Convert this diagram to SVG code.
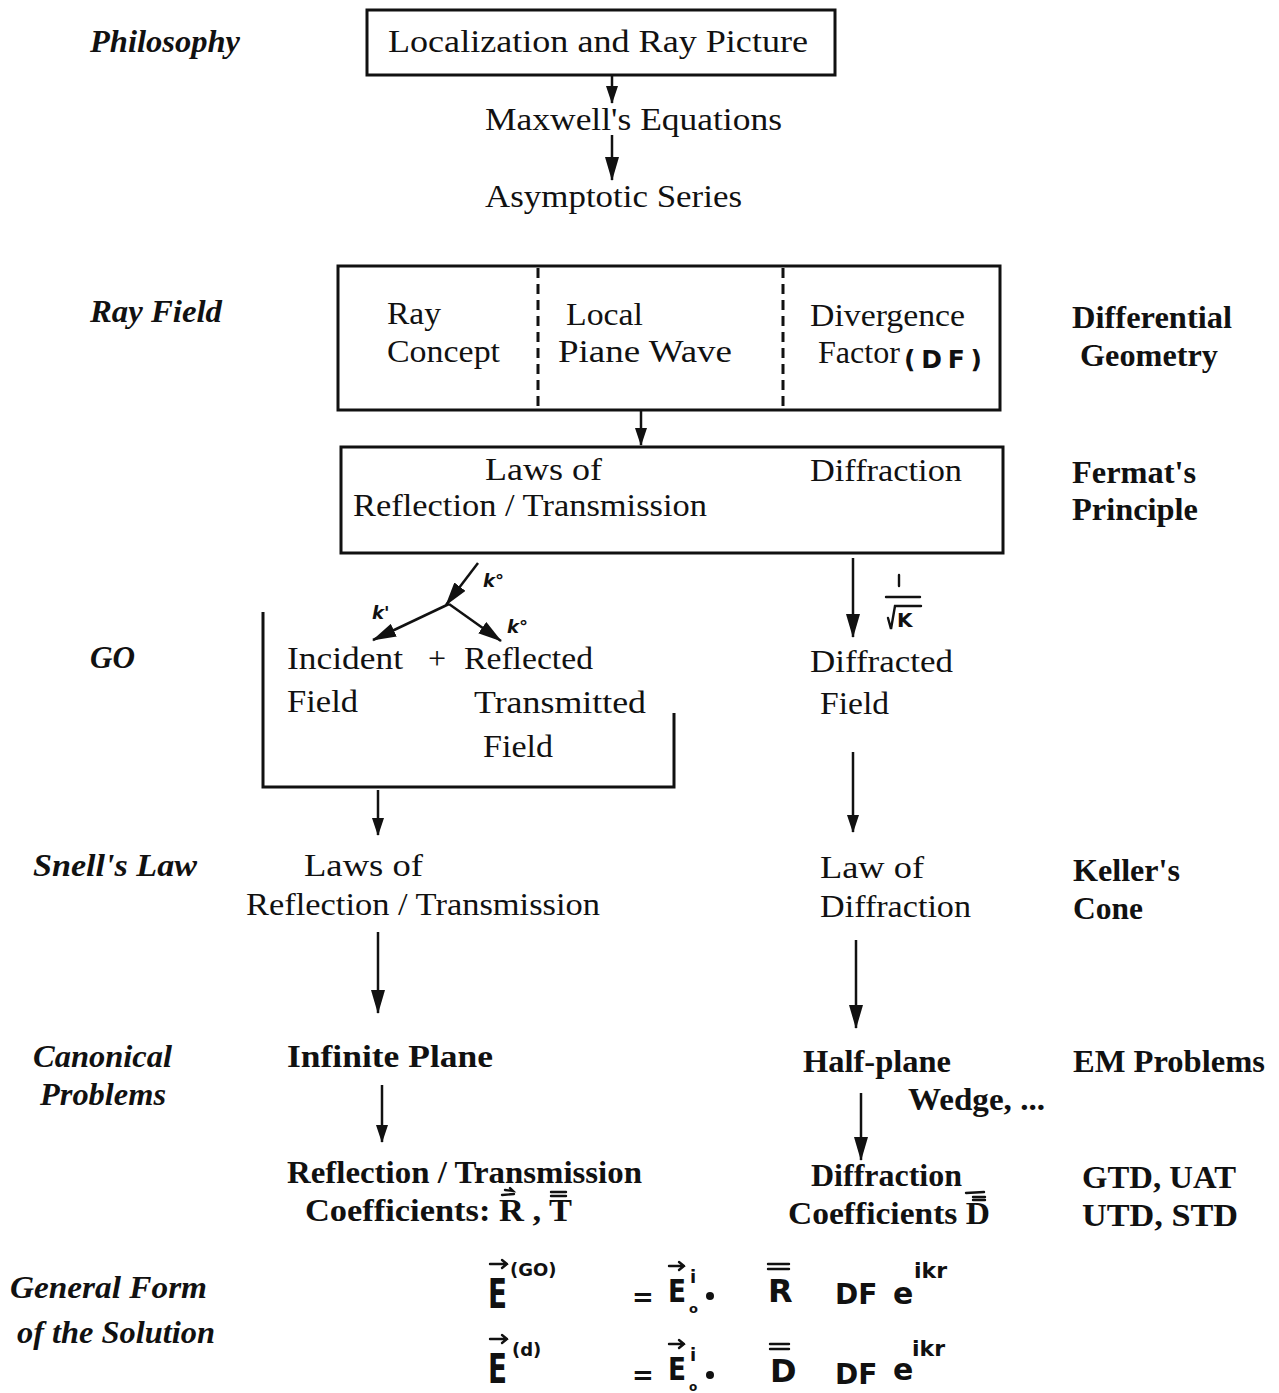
<svg xmlns="http://www.w3.org/2000/svg" width="1279" height="1393" viewBox="0 0 1279 1393">
<style>
.t{font-family:"Liberation Serif","Times New Roman",serif;font-size:32px;fill:#111}
.b{font-family:"Liberation Serif","Times New Roman",serif;font-size:31px;font-weight:bold;fill:#111}
.l{font-family:"Liberation Serif","Times New Roman",serif;font-size:31px;font-weight:bold;font-style:italic;fill:#111}
.h{font-family:"DejaVu Sans",sans-serif;font-weight:bold;fill:#111}
.box{fill:none;stroke:#111;stroke-width:3}
.dash{fill:none;stroke:#111;stroke-width:3;stroke-dasharray:10,6}
.c{fill:none;stroke:#111;stroke-width:2.5}
.hw{fill:none;stroke:#111;stroke-width:2.4;stroke-linecap:round}
</style>
<defs>
<marker id="ah" markerUnits="userSpaceOnUse" markerWidth="18" markerHeight="12" refX="17" refY="6" orient="auto">
<path d="M0,0 L18,6 L0,12 z" fill="#111"/>
</marker>
<marker id="ahb" markerUnits="userSpaceOnUse" markerWidth="24" markerHeight="14" refX="23" refY="7" orient="auto">
<path d="M0,0 L24,7 L0,14 z" fill="#111"/>
</marker>
</defs>

<g id="labels-left">
<text class="l" x="90" y="52" textLength="150" lengthAdjust="spacingAndGlyphs">Philosophy</text>
<text class="l" x="90" y="322" textLength="132" lengthAdjust="spacingAndGlyphs">Ray Field</text>
<text class="l" x="90" y="668" textLength="45" lengthAdjust="spacingAndGlyphs">GO</text>
<text class="l" x="33" y="876" textLength="164" lengthAdjust="spacingAndGlyphs">Snell's Law</text>
<text class="l" x="33" y="1067" textLength="139" lengthAdjust="spacingAndGlyphs">Canonical</text>
<text class="l" x="40" y="1105" textLength="126" lengthAdjust="spacingAndGlyphs">Problems</text>
<text class="l" x="10" y="1298" textLength="197" lengthAdjust="spacingAndGlyphs">General Form</text>
<text class="l" x="17" y="1343" textLength="198" lengthAdjust="spacingAndGlyphs">of the Solution</text>
</g>

<g id="labels-right">
<text class="b" x="1072" y="328" textLength="160" lengthAdjust="spacingAndGlyphs">Differential</text>
<text class="b" x="1080" y="366" textLength="138" lengthAdjust="spacingAndGlyphs">Geometry</text>
<text class="b" x="1072" y="483" textLength="124" lengthAdjust="spacingAndGlyphs">Fermat's</text>
<text class="b" x="1072" y="520" textLength="126" lengthAdjust="spacingAndGlyphs">Principle</text>
<text class="b" x="1073" y="881" textLength="107" lengthAdjust="spacingAndGlyphs">Keller's</text>
<text class="b" x="1073" y="919" textLength="70" lengthAdjust="spacingAndGlyphs">Cone</text>
<text class="b" x="1073" y="1072" textLength="192" lengthAdjust="spacingAndGlyphs">EM Problems</text>
<text class="b" x="1082" y="1188" textLength="154" lengthAdjust="spacingAndGlyphs">GTD, UAT</text>
<text class="b" x="1082" y="1226" textLength="156" lengthAdjust="spacingAndGlyphs">UTD, STD</text>
</g>

<g id="node-localization">
<rect class="box" x="367" y="10" width="468" height="65"/>
<text class="t" x="388" y="52" textLength="420" lengthAdjust="spacingAndGlyphs">Localization and Ray Picture</text>
</g>
<g id="node-maxwell">
<text class="t" x="485" y="130" textLength="297" lengthAdjust="spacingAndGlyphs">Maxwell's Equations</text>
</g>
<g id="node-asymptotic">
<text class="t" x="485" y="207" textLength="257" lengthAdjust="spacingAndGlyphs">Asymptotic Series</text>
</g>

<g id="node-rayfield">
<rect class="box" x="338" y="266" width="662" height="144"/>
<line class="dash" x1="538" y1="268" x2="538" y2="408"/>
<line class="dash" x1="783" y1="268" x2="783" y2="408"/>
<text class="t" x="387" y="324" textLength="54" lengthAdjust="spacingAndGlyphs">Ray</text>
<text class="t" x="387" y="362" textLength="113" lengthAdjust="spacingAndGlyphs">Concept</text>
<text class="t" x="566" y="325" textLength="77" lengthAdjust="spacingAndGlyphs">Local</text>
<text class="t" x="558" y="362" textLength="174" lengthAdjust="spacingAndGlyphs">Piane Wave</text>
<text class="t" x="810" y="326" textLength="155" lengthAdjust="spacingAndGlyphs">Divergence</text>
<text class="t" x="818" y="363" textLength="82" lengthAdjust="spacingAndGlyphs">Factor</text>
<text class="h" x="904" y="368" font-size="25" textLength="78" lengthAdjust="spacing">(DF)</text>
</g>

<g id="node-laws">
<rect class="box" x="341" y="447" width="662" height="106"/>
<text class="t" x="485" y="480" textLength="117" lengthAdjust="spacingAndGlyphs">Laws of</text>
<text class="t" x="810" y="481" textLength="152" lengthAdjust="spacingAndGlyphs">Diffraction</text>
<text class="t" x="353" y="516" textLength="354" lengthAdjust="spacingAndGlyphs">Reflection / Transmission</text>
</g>

<g id="node-go">
<path class="box" d="M263,612 L263,787 L674,787 L674,713"/>
<text class="t" x="287" y="669" textLength="116" lengthAdjust="spacingAndGlyphs">Incident</text>
<text class="t" x="428" y="669">+</text>
<text class="t" x="464" y="669" textLength="129" lengthAdjust="spacingAndGlyphs">Reflected</text>
<text class="t" x="287" y="712" textLength="71" lengthAdjust="spacingAndGlyphs">Field</text>
<text class="t" x="474" y="713" textLength="172" lengthAdjust="spacingAndGlyphs">Transmitted</text>
<text class="t" x="483" y="757" textLength="70" lengthAdjust="spacingAndGlyphs">Field</text>
</g>

<g id="node-diffracted">
<text class="t" x="810" y="672" textLength="143" lengthAdjust="spacingAndGlyphs">Diffracted</text>
<text class="t" x="820" y="714" textLength="69" lengthAdjust="spacingAndGlyphs">Field</text>
</g>

<g id="node-snell-left">
<text class="t" x="304" y="876" textLength="119" lengthAdjust="spacingAndGlyphs">Laws of</text>
<text class="t" x="246" y="915" textLength="354" lengthAdjust="spacingAndGlyphs">Reflection / Transmission</text>
</g>
<g id="node-snell-right">
<text class="t" x="820" y="878" textLength="104" lengthAdjust="spacingAndGlyphs">Law of</text>
<text class="t" x="820" y="917" textLength="151" lengthAdjust="spacingAndGlyphs">Diffraction</text>
</g>

<g id="node-infinite-plane">
<text class="b" x="287" y="1067" textLength="206" lengthAdjust="spacingAndGlyphs">Infinite Plane</text>
</g>
<g id="node-half-plane">
<text class="b" x="803" y="1072" textLength="148" lengthAdjust="spacingAndGlyphs">Half-plane</text>
<text class="b" x="908" y="1110" textLength="137" lengthAdjust="spacingAndGlyphs">Wedge, ...</text>
</g>

<g id="node-rt-coeff">
<text class="b" x="287" y="1183" textLength="355" lengthAdjust="spacingAndGlyphs">Reflection / Transmission</text>
<text class="b" x="305" y="1221" textLength="267" lengthAdjust="spacingAndGlyphs">Coefficients: R , T</text>
<path class="hw" d="M502,1195 L514,1194 M505,1190 L513,1191 L510,1188" stroke-width="1.8"/>
<path class="hw" d="M551,1192 L566,1192 M551,1196 L566,1196" stroke-width="2"/>
</g>
<g id="node-d-coeff">
<text class="b" x="811" y="1186" textLength="151" lengthAdjust="spacingAndGlyphs">Diffraction</text>
<text class="b" x="788" y="1224" textLength="202" lengthAdjust="spacingAndGlyphs">Coefficients D</text>
<path class="hw" d="M966,1193 L984,1192" stroke-width="2"/>
<path class="hw" d="M973,1197 L985,1197 M973,1200 L985,1200" stroke-width="1.8"/>
</g>

<g id="node-formulas">
<text class="h" x="488" y="1308" font-size="40" textLength="19" lengthAdjust="spacingAndGlyphs">E</text>
<path class="hw" d="M490,1264 L507,1264 M502,1260 L507,1264 L502,1268"/>
<text class="h" x="510" y="1276" font-size="18">(GO)</text>
<text class="h" x="632" y="1306" font-size="26">=</text>
<text class="h" x="668" y="1302" font-size="32" textLength="18" lengthAdjust="spacingAndGlyphs">E</text>
<path class="hw" d="M669,1266 L684,1266 M679,1262 L684,1266 L679,1270"/>
<text class="h" x="690" y="1283" font-size="18">i</text>
<text class="h" x="689" y="1313" font-size="13">o</text>
<circle cx="710" cy="1296" r="4" fill="#111"/>
<text class="h" x="768" y="1302" font-size="32">R</text>
<path class="hw" d="M768,1264 L789,1264 M768,1269 L789,1269"/>
<text class="h" x="835" y="1304" font-size="28">DF</text>
<text class="h" x="893" y="1304" font-size="30">e</text>
<text class="h" x="914" y="1278" font-size="22">ikr</text>

<text class="h" x="488" y="1383" font-size="40" textLength="19" lengthAdjust="spacingAndGlyphs">E</text>
<path class="hw" d="M490,1339 L507,1339 M502,1335 L507,1339 L502,1343"/>
<text class="h" x="512" y="1356" font-size="18">(d)</text>
<text class="h" x="632" y="1384" font-size="26">=</text>
<text class="h" x="668" y="1380" font-size="32" textLength="18" lengthAdjust="spacingAndGlyphs">E</text>
<path class="hw" d="M669,1344 L684,1344 M679,1340 L684,1344 L679,1348"/>
<text class="h" x="690" y="1361" font-size="18">i</text>
<text class="h" x="689" y="1391" font-size="12">o</text>
<circle cx="710" cy="1375" r="4" fill="#111"/>
<text class="h" x="770" y="1382" font-size="32">D</text>
<path class="hw" d="M770,1344 L789,1344 M770,1349 L789,1349"/>
<text class="h" x="835" y="1384" font-size="28">DF</text>
<text class="h" x="893" y="1380" font-size="30">e</text>
<text class="h" x="912" y="1356" font-size="22">ikr</text>
</g>

<g id="edge-labels">
<text class="h" x="483" y="587" font-size="18" font-style="italic">k°</text>
<text class="h" x="507" y="633" font-size="18" font-style="italic">k°</text>
<text class="h" x="372" y="619" font-size="18" font-style="italic">k'</text>
<path class="hw" d="M899,575 L899,586" stroke-width="3"/>
<line class="hw" x1="886" y1="597" x2="920" y2="597"/>
<path class="hw" d="M888,618 L891,629 L895,606 L921,606"/>
<text class="h" x="897" y="627" font-size="20">K</text>
</g>

<g id="connectors">
<line class="c" x1="612" y1="75" x2="612" y2="103" marker-end="url(#ah)"/>
<line class="c" x1="612" y1="135" x2="612" y2="180" stroke-width="3.5" marker-end="url(#ahb)"/>
<line class="c" x1="641" y1="410" x2="641" y2="445" marker-end="url(#ah)"/>
<line class="c" x1="478" y1="563" x2="446" y2="605" stroke-width="3.5" marker-end="url(#ahb)"/>
<line class="c" x1="449" y1="604" x2="373" y2="640" stroke-width="3" marker-end="url(#ahb)"/>
<line class="c" x1="449" y1="604" x2="501" y2="641" stroke-width="3" marker-end="url(#ahb)"/>
<line class="c" x1="853" y1="558" x2="853" y2="637" stroke-width="3" marker-end="url(#ahb)"/>
<line class="c" x1="378" y1="790" x2="378" y2="835" marker-end="url(#ah)"/>
<line class="c" x1="853" y1="752" x2="853" y2="832" marker-end="url(#ah)"/>
<line class="c" x1="378" y1="932" x2="378" y2="1013" stroke-width="3" marker-end="url(#ahb)"/>
<line class="c" x1="856" y1="940" x2="856" y2="1028" stroke-width="3" marker-end="url(#ahb)"/>
<line class="c" x1="382" y1="1085" x2="382" y2="1142" marker-end="url(#ah)"/>
<line class="c" x1="861" y1="1093" x2="861" y2="1160" marker-end="url(#ahb)"/>
</g>
</svg>
